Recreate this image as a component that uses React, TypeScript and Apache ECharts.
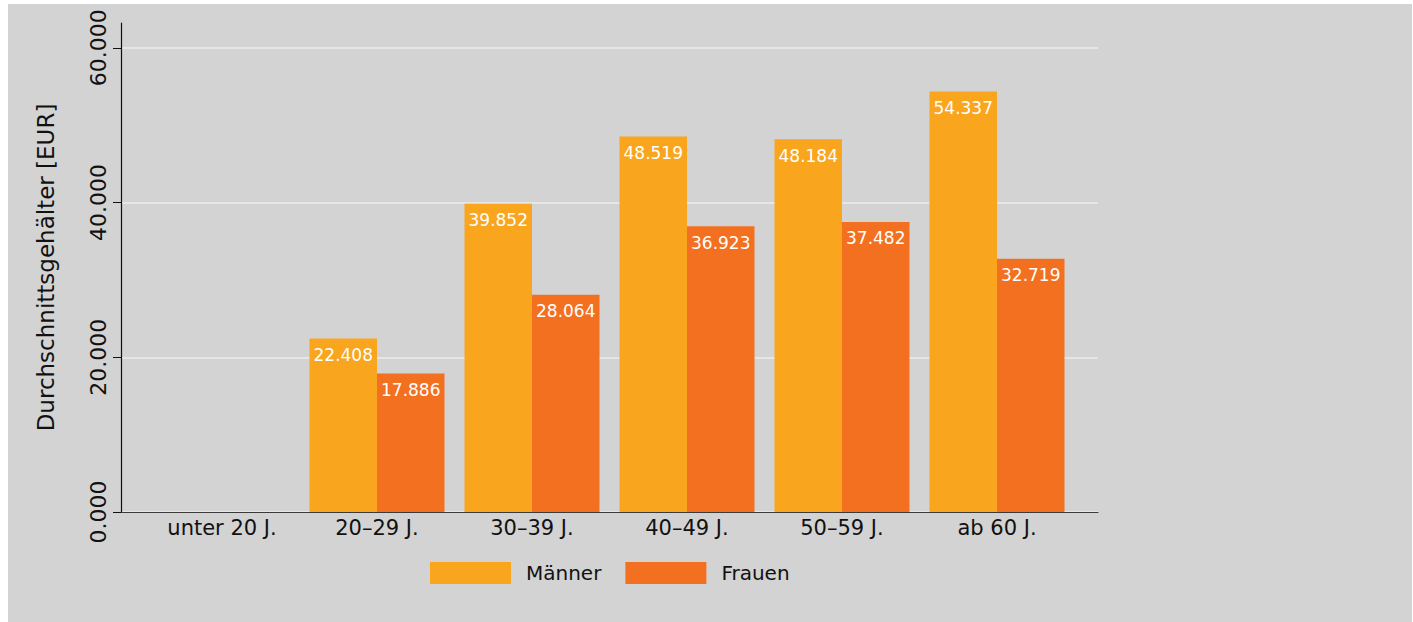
import React, { useEffect, useRef } from "react";
import * as echarts from "echarts";

const categories = ["unter 20 J.", "20–29 J.", "30–39 J.", "40–49 J.", "50–59 J.", "ab 60 J."];
const maenner = [null, 22408, 39852, 48519, 48184, 54337];
const frauen = [null, 17886, 28064, 36923, 37482, 32719];
const yTicks = [0, 20000, 40000, 60000];

const fmt = (v: number) => (v / 1000).toFixed(3);
const FONT = "DejaVu Sans, sans-serif";

export default function App() {
  const ref = useRef<HTMLDivElement>(null);
  useEffect(() => {
    const chart = echarts.init(ref.current!, null, { renderer: "svg" });
    const yMax = 63200;
    chart.setOption({
      animation: false,
      backgroundColor: "#d3d3d3",
      textStyle: { fontFamily: FONT },
      legend: {
        left: 417,
        top: 553,
        itemWidth: 81,
        itemHeight: 22,
        itemGap: 24,
        icon: "rect",
        textStyle: { fontSize: 20, color: "#111", fontFamily: FONT, padding: [0, 0, 0, 10] },
        data: ["Männer", "Frauen"],
      },
      grid: [
        { left: 113, top: 19, width: 977, height: 489 },
        { left: 136.5, top: 19, width: 930, height: 489 },
      ],
      xAxis: [
        {
          type: "category",
          gridIndex: 0,
          data: categories,
          axisLine: { show: true, lineStyle: { color: "#3a3a3a", width: 1.2 } },
          axisTick: { show: false },
          axisLabel: { show: false },
        },
        {
          type: "category",
          gridIndex: 1,
          data: categories,
          axisLine: { show: false },
          axisTick: { show: false },
          axisLabel: { fontSize: 21, color: "#111", margin: 5, fontFamily: FONT },
        },
      ],
      yAxis: [
        {
          type: "value",
          gridIndex: 0,
          min: 0,
          max: yMax,
          interval: 20000,
          name: "Durchschnittsgehälter [EUR]",
          nameLocation: "middle",
          nameGap: 64,
          nameTextStyle: { fontSize: 23, color: "#111", fontFamily: FONT },
          axisLine: { show: true, lineStyle: { color: "#111", width: 1.2 } },
          axisTick: { show: true, length: 8, customValues: yTicks, lineStyle: { color: "#111" } },
          axisLabel: {
            rotate: 90,
            fontSize: 22,
            color: "#111",
            margin: 12,
            customValues: yTicks,
            formatter: (v: number) => fmt(v),
            fontFamily: FONT,
          },
          splitLine: { show: true, lineStyle: { color: "#ececec", width: 1.5 } },
        },
        {
          type: "value",
          gridIndex: 1,
          min: 0,
          max: yMax,
          interval: 20000,
          show: false,
          splitLine: { show: false },
        },
      ],
      series: [
        {
          name: "Männer",
          type: "bar",
          xAxisIndex: 1,
          yAxisIndex: 1,
          data: maenner,
          barWidth: 67.5,
          barGap: "0%",
          itemStyle: { color: "#f9a51e" },
          label: {
            show: true,
            position: "insideTop",
            distance: 8,
            color: "#fff",
            fontSize: 17,
            fontFamily: FONT,
            formatter: (p: any) => fmt(p.value),
          },
        },
        {
          name: "Frauen",
          type: "bar",
          xAxisIndex: 1,
          yAxisIndex: 1,
          data: frauen,
          barWidth: 67.5,
          barGap: "0%",
          itemStyle: { color: "#f37021" },
          label: {
            show: true,
            position: "insideTop",
            distance: 8,
            color: "#fff",
            fontSize: 17,
            fontFamily: FONT,
            formatter: (p: any) => fmt(p.value),
          },
        },
      ],
    });
    return () => chart.dispose();
  }, []);
  return (
    <div
      ref={ref}
      style={{ position: "absolute", left: 8, top: 4, width: 1404, height: 618, background: "#d3d3d3" }}
    />
  );
}
